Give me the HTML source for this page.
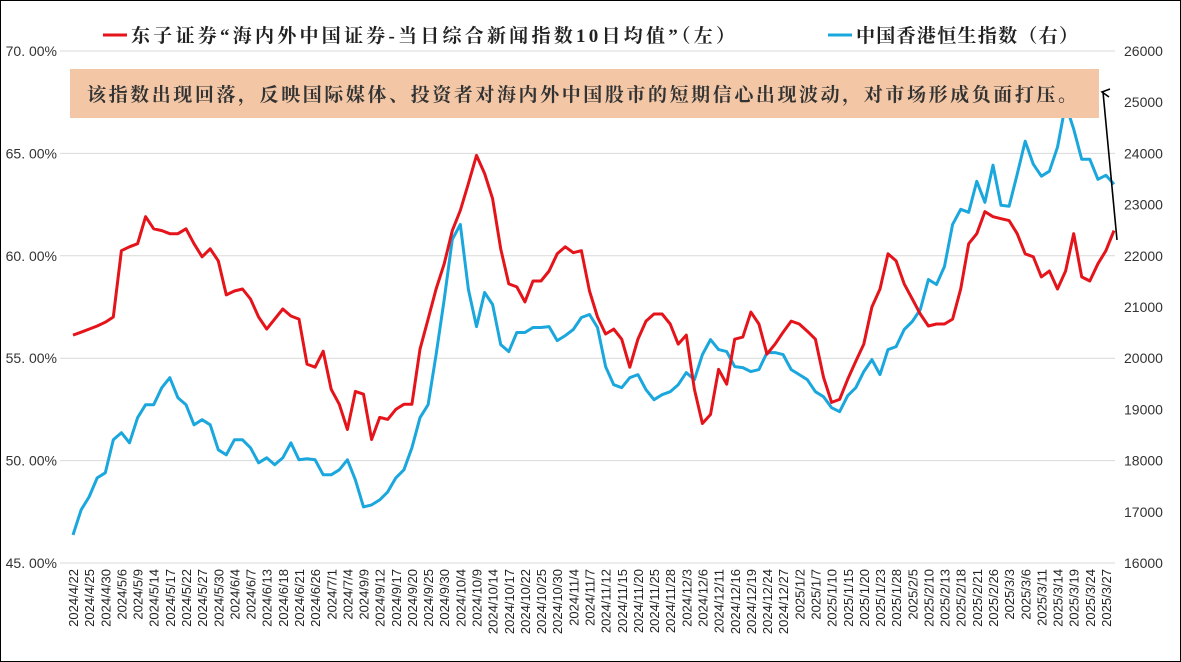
<!DOCTYPE html>
<html><head><meta charset="utf-8"><style>
html,body{margin:0;padding:0;background:#fff}
svg{display:block}
text{font-family:"Liberation Sans","Noto Sans CJK SC",sans-serif}
.cn{font-family:"Liberation Serif","Noto Serif CJK SC",serif;font-weight:bold}
</style></head><body>
<svg id="chart" width="1181" height="662" viewBox="0 0 1181 662" xmlns="http://www.w3.org/2000/svg">
<rect x="0.5" y="0.5" width="1180" height="661" fill="#fff" stroke="#000" stroke-width="1"/>
<g id="grid"></g>
<g id="leftAxis"></g>
<g id="rightAxis"></g>
<g id="xAxis"></g>
<path id="blueLine" fill="none" stroke="#1AA7DD" stroke-width="3" stroke-linejoin="round"/>
<path id="redLine" fill="none" stroke="#E5131A" stroke-width="3" stroke-linejoin="round"/>
<g>
  <line x1="103" y1="35" x2="127" y2="35" stroke="#E5131A" stroke-width="3"/>
  <text class="cn" x="131" y="42" font-size="19" fill="#222" textLength="604" lengthAdjust="spacing">东子证券“海内外中国证券-当日综合新闻指数10日均值”（左）</text>
  <line x1="828" y1="35" x2="852" y2="35" stroke="#1AA7DD" stroke-width="3"/>
  <text class="cn" x="856" y="42" font-size="19" fill="#222" textLength="222" lengthAdjust="spacing">中国香港恒生指数（右）</text>
</g>
<g>
  <rect x="70" y="69" width="1029" height="49" fill="#F3C7A6"/>
  <text class="cn" x="87" y="101" font-size="19" fill="#333" textLength="990" lengthAdjust="spacing">该指数出现回落，反映国际媒体、投资者对海内外中国股市的短期信心出现波动，对市场形成负面打压。</text>
  <line x1="1117" y1="240" x2="1103" y2="92" stroke="#000" stroke-width="1.6"/>
  <polyline points="1110,89 1102,92 1109,97" fill="none" stroke="#000" stroke-width="1.6"/>
</g>
</svg>
<script>
const dates=["2024/4/22","2024/4/25","2024/4/30","2024/5/6","2024/5/9","2024/5/14","2024/5/17","2024/5/22","2024/5/27","2024/5/30","2024/6/4","2024/6/7","2024/6/13","2024/6/18","2024/6/21","2024/6/26","2024/7/1","2024/7/4","2024/9/9","2024/9/12","2024/9/17","2024/9/20","2024/9/25","2024/9/30","2024/10/4","2024/10/9","2024/10/14","2024/10/17","2024/10/22","2024/10/25","2024/10/30","2024/11/4","2024/11/7","2024/11/12","2024/11/15","2024/11/20","2024/11/25","2024/11/28","2024/12/3","2024/12/6","2024/12/11","2024/12/16","2024/12/19","2024/12/24","2024/12/27","2025/1/2","2025/1/7","2025/1/10","2025/1/15","2025/1/20","2025/1/23","2025/1/28","2025/2/5","2025/2/10","2025/2/13","2025/2/18","2025/2/21","2025/2/26","2025/3/3","2025/3/6","2025/3/11","2025/3/14","2025/3/19","2025/3/24","2025/3/27"];
const newsIndex=[56.13,56.27,56.42,56.57,56.76,57.01,60.25,60.44,60.59,61.91,61.32,61.23,61.08,61.08,61.32,60.59,59.95,60.34,59.75,58.09,58.28,58.38,57.89,57.01,56.42,56.91,57.40,57.06,56.91,54.71,54.56,55.34,53.48,52.75,51.52,53.38,53.24,51.03,52.11,52.01,52.50,52.75,52.75,55.44,56.91,58.38,59.61,61.23,62.21,63.53,64.90,64.02,62.79,60.34,58.63,58.48,57.75,58.77,58.77,59.26,60.10,60.44,60.15,60.25,58.28,57.01,56.18,56.42,55.93,54.56,55.93,56.81,57.16,57.16,56.67,55.69,56.13,53.48,51.81,52.25,54.46,53.73,55.93,56.03,57.25,56.67,55.20,55.69,56.27,56.81,56.67,56.32,55.93,54.07,52.84,52.99,53.97,54.85,55.69,57.50,58.38,60.10,59.75,58.63,57.89,57.16,56.57,56.67,56.67,56.91,58.38,60.59,61.08,62.16,61.91,61.81,61.72,61.08,60.10,59.95,58.97,59.26,58.38,59.26,61.08,58.97,58.77,59.61,60.25,61.23];
const hsi=[16548,17037,17291,17663,17761,18407,18544,18348,18837,19092,19092,19424,19620,19229,19092,18700,18798,18700,18211,18113,18407,18407,18250,17957,18055,17918,18055,18348,18015,18035,18015,17722,17722,17820,18015,17624,17096,17135,17233,17389,17663,17820,18250,18837,19092,20070,21147,22321,22614,21342,20618,21284,21049,20266,20129,20501,20501,20599,20599,20618,20344,20442,20560,20794,20853,20599,19835,19483,19424,19620,19679,19385,19190,19287,19346,19483,19718,19581,20070,20364,20168,20129,19835,19816,19738,19777,20109,20109,20070,19777,19679,19581,19346,19248,19033,18955,19268,19424,19738,19972,19679,20168,20227,20560,20716,20951,21538,21440,21792,22614,22908,22849,23456,23045,23769,22986,22967,23593,24239,23789,23554,23652,24121,24963,24474,23886,23886,23495,23573,23397];
const leftTicks=[70,65,60,55,50,45];
const rightTicks=[26000,25000,24000,23000,22000,21000,20000,19000,18000,17000,16000];
const NS="http://www.w3.org/2000/svg";
const X0=73,X1=1114,YT=51,YB=563;
function yL(v){return YB-(v-45)/25*(YB-YT);}
function yR(v){return YB-(v-16000)/10000*(YB-YT);}
function xS(i,n){return X0+i*(X1-X0)/(n-1);}
function xD(j){return X0+j*(1106-X0)/(dates.length-1);}
function mk(tag,attrs,parent){const e=document.createElementNS(NS,tag);for(const k in attrs)e.setAttribute(k,attrs[k]);parent.appendChild(e);return e;}
const grid=document.getElementById('grid'),la=document.getElementById('leftAxis'),ra=document.getElementById('rightAxis'),xa=document.getElementById('xAxis');
leftTicks.forEach(v=>{
  if(v>45&&v<=70){const g=mk('line',{x1:60,x2:1115,y1:yL(v),y2:yL(v),stroke:'#d9d9d9','stroke-width':1},grid);
  
  }
  const t=mk('text',{x:57,y:yL(v)+5,'text-anchor':'end','font-size':14,fill:'#333'},la);
  
  
  t.textContent=v.toFixed(2).replace('.','. ')+'%';
});
rightTicks.forEach(v=>{
  const t=mk('text',{x:1124,y:yR(v)+5,'font-size':14,fill:'#333'},ra);
  
  
  t.textContent=v;
});
const ax=mk('line',{x1:60,x2:1115,y1:YB,y2:YB,stroke:'#d9d9d9','stroke-width':1},xa);


dates.forEach((d,j)=>{
  const x=xD(j)+5;
  const t=mk('text',{x:0,y:0,'text-anchor':'end','font-size':13,fill:'#222',transform:`translate(${x},569) rotate(-90)`},xa);
  
  
  t.textContent=d;
});
function path(arr,yf){return arr.map((v,i)=>(i?'L':'M')+xS(i,arr.length).toFixed(1)+' '+yf(v).toFixed(1)).join(' ');}
document.getElementById('redLine').setAttribute('d',path(newsIndex,yL));
document.getElementById('blueLine').setAttribute('d',path(hsi,yR));
</script>
</body></html>
